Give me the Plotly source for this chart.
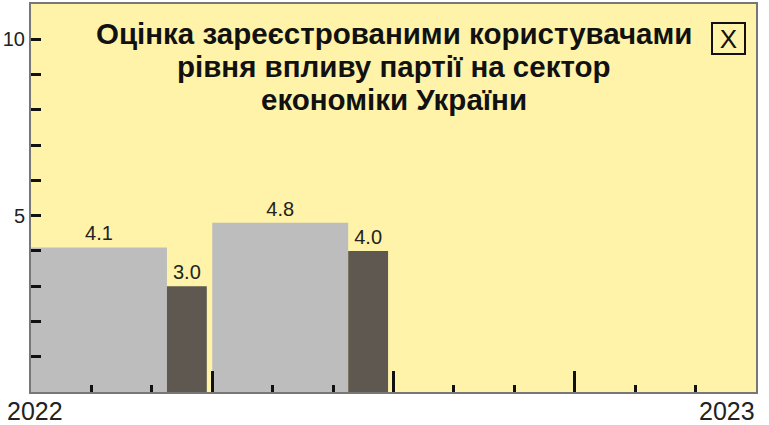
import plotly.graph_objects as go

# quarters of 2022 on a numeric axis 0..4
periods = [0, 1]                  # Q1, Q2
registered_score = [4.1, 4.8]     # light bars
other_score = [3.0, 4.0]          # dark bars
year_labels = ["2022", "2023"]
title_lines = ["Оцінка зареєстрованими користувачами",
               "рівня впливу партії на сектор",
               "економіки України"]

light_x = [p + 0.375 for p in periods]
dark_x = [p + 0.86 for p in periods]

fig = go.Figure()
fig.add_trace(go.Bar(x=light_x, y=registered_score, width=0.75,
                     marker=dict(color="#BDBDBD", line=dict(width=0)),
                     text=[f"{v:.1f}" for v in registered_score], textposition="outside",
                     constraintext="none",
                     textfont=dict(size=20, color="#222"), cliponaxis=False))
fig.add_trace(go.Bar(x=dark_x, y=other_score, width=0.22,
                     marker=dict(color="#5E5851", line=dict(width=0)),
                     text=[f"{v:.1f}" for v in other_score], textposition="outside",
                     constraintext="none",
                     textfont=dict(size=20, color="#222"), cliponaxis=False))

fig.update_layout(
    width=769, height=425,
    margin=dict(l=31, r=13, t=4, b=33),
    paper_bgcolor="white", plot_bgcolor="#FEF3A8",
    showlegend=False, barmode="overlay",
    font=dict(family="Liberation Sans, Arial, sans-serif", color="#222"),
)
fig.update_xaxes(range=[0, 4], showgrid=False, zeroline=False, automargin=False,
                 showline=True, mirror=True, linecolor="#777", linewidth=2,
                 tickmode="array", tickvals=[1, 2, 3], ticktext=["", "", ""],
                 ticks="inside", ticklen=21, tickwidth=3, tickcolor="#111",
                 minor=dict(tickmode="array",
                            tickvals=[1/3, 2/3, 4/3, 5/3, 7/3, 8/3, 10/3, 11/3],
                            ticks="inside", ticklen=7, tickwidth=3, tickcolor="#111"))
fig.update_yaxes(range=[0, 11], showgrid=False, zeroline=False, automargin=False,
                 showline=True, mirror=True, linecolor="#777", linewidth=2,
                 tickmode="array", tickvals=[5, 10], ticks="inside",
                 ticklen=10, tickwidth=3, tickcolor="#111",
                 tickfont=dict(size=20, color="#222"),
                 minor=dict(tickmode="array", tickvals=[1, 2, 3, 4, 6, 7, 8, 9],
                            ticks="inside", ticklen=10, tickwidth=3, tickcolor="#111"))

# year labels under the axis ends
fig.add_annotation(x=0.006, y=-0.049, xref="paper", yref="paper", text=year_labels[0],
                   xanchor="center", yanchor="middle",
                   showarrow=False, font=dict(size=25, color="#222"))
fig.add_annotation(x=1.0015, y=-0.049, xref="paper", yref="paper", text=year_labels[1],
                   xanchor="right", yanchor="middle",
                   showarrow=False, font=dict(size=25, color="#222"))

# title, one annotation per line for tight line spacing
title_y = [0.925, 0.838, 0.755]
for line, ty in zip(title_lines, title_y):
    fig.add_annotation(x=0.5, y=ty, xref="paper", yref="paper", text=line,
                       xanchor="center", yanchor="middle", showarrow=False,
                       font=dict(size=29.5, color="#111", weight="bold"))

# close box
fig.add_annotation(x=0.962, y=0.911, xref="paper", yref="paper", text="X",
                   xanchor="center", yanchor="middle", showarrow=False,
                   width=29, height=27, borderpad=1,
                   bordercolor="#111", borderwidth=2,
                   font=dict(size=26, color="#111"))

fig.write_html("out.html", config={"displayModeBar": False},
               post_script="document.body.style.margin='0';")
